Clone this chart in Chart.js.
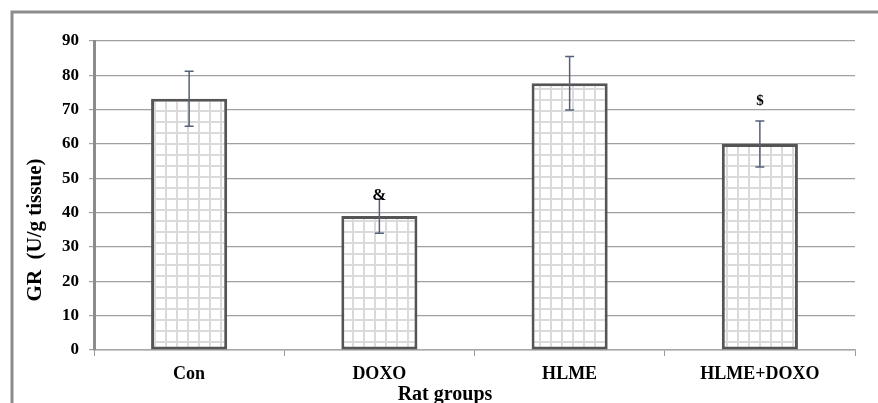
<!DOCTYPE html>
<html>
<head>
<meta charset="utf-8">
<script src="https://cdn.jsdelivr.net/npm/chart.js@4"></script>
<style>
  html, body { margin: 0; padding: 0; background: #fff; }
  canvas { display: block; }
</style>
</head>
<body>
<canvas id="c" width="878" height="403"></canvas>
<script>
// Rat groups and GR activity (mean ± SD)
const groups = ['Con', 'DOXO', 'HLME', 'HLME+DOXO'];
const grMeans = [73.2, 39.0, 77.7, 60.0];
const grSD = [8.0, 5.0, 7.8, 6.7];
const sigMarks = ['', '&', '', '$'];
const yTicks = [0, 10, 20, 30, 40, 50, 60, 70, 80, 90];

const SERIF = '"Liberation Serif", "Times New Roman", serif';

// Light checkered fill for the bars
function gridPattern() {
  const size = 11;
  const p = document.createElement('canvas');
  p.width = size; p.height = size;
  const g = p.getContext('2d');
  g.fillStyle = '#ffffff';
  g.fillRect(0, 0, size, size);
  g.fillStyle = '#dadada';
  g.fillRect(0, 0, 2, size);
  g.fillRect(0, 0, size, 2);
  return g.createPattern(p, 'repeat');
}

const ctx = document.getElementById('c').getContext('2d');

// Frame around the whole figure
const framePlugin = {
  id: 'frame',
  beforeDraw(chart) {
    const c = chart.ctx;
    c.save();
    c.strokeStyle = '#8c8c8c';
    c.lineWidth = 3;
    c.beginPath();
    c.moveTo(12, 403);
    c.lineTo(12, 12);
    c.lineTo(878, 12);
    c.stroke();
    c.restore();
  }
};

// Error bars and significance marks
const errorBarPlugin = {
  id: 'errorBars',
  afterDatasetsDraw(chart) {
    const c = chart.ctx;
    const y = chart.scales.y;
    const meta = chart.getDatasetMeta(0);
    c.save();
    meta.data.forEach((bar, i) => {
      const x = bar.x;
      const top = y.getPixelForValue(grMeans[i] + grSD[i]);
      const bot = y.getPixelForValue(grMeans[i] - grSD[i]);
      c.strokeStyle = '#56607a';
      c.lineWidth = 1.5;
      c.beginPath();
      c.moveTo(x, top); c.lineTo(x, bot);
      c.moveTo(x - 4.5, top); c.lineTo(x + 4.5, top);
      c.moveTo(x - 4.5, bot); c.lineTo(x + 4.5, bot);
      c.stroke();
      if (sigMarks[i]) {
        const isDollar = sigMarks[i] === '$';
        c.fillStyle = '#000';
        c.font = 'bold ' + (isDollar ? 15 : 17) + 'px ' + SERIF;
        c.textAlign = 'center';
        c.textBaseline = 'middle';
        c.fillText(sigMarks[i], x, top - (isDollar ? 20 : 3));
      }
    });
    c.restore();
  }
};

// Axis titles
const titlesPlugin = {
  id: 'axisTitles',
  afterDraw(chart) {
    const c = chart.ctx;
    c.save();
    c.fillStyle = '#000';
    c.font = 'bold 20px ' + SERIF;
    c.textAlign = 'center';
    c.textBaseline = 'alphabetic';
    c.fillText('Rat groups', 445, 400);
    c.font = 'bold 21px ' + SERIF;
    c.translate(41, 230);
    c.rotate(-Math.PI / 2);
    c.fillText('GR  (U/g tissue)', 0, 0);
    c.restore();
  }
};

new Chart(ctx, {
  type: 'bar',
  data: {
    labels: groups,
    datasets: [{
      data: grMeans,
      backgroundColor: gridPattern(),
      borderColor: '#555555',
      borderWidth: 3,
      borderSkipped: false,
      barPercentage: 0.4,
      categoryPercentage: 1.0
    }]
  },
  options: {
    responsive: false,
    animation: false,
    layout: { padding: { left: 0, top: 41, right: 23, bottom: 0 } },
    plugins: {
      legend: { display: false },
      tooltip: { enabled: false }
    },
    scales: {
      x: {
        afterFit(scale) { scale.height = 53; },
        grid: {
          offset: true,
          drawOnChartArea: false,
          drawTicks: true,
          tickLength: 6,
          color: '#9a9a9a'
        },
        border: { color: '#a8a8a8', width: 1.5 },
        ticks: {
          color: '#000',
          padding: 8,
          font: { family: SERIF, size: 18, weight: 'bold' }
        }
      },
      y: {
        min: 0,
        max: 90,
        afterFit(scale) { scale.width = 94; },
        afterBuildTicks(scale) { scale.ticks = yTicks.map(v => ({ value: v })); },
        grid: {
          color: '#a0a0a0',
          lineWidth: 1.2,
          tickLength: 5
        },
        border: { color: '#8c8c8c', width: 3 },
        ticks: {
          color: '#000',
          padding: 10,
          font: { family: SERIF, size: 17, weight: 'bold' }
        }
      }
    }
  },
  plugins: [framePlugin, errorBarPlugin, titlesPlugin]
});
</script>
</body>
</html>
